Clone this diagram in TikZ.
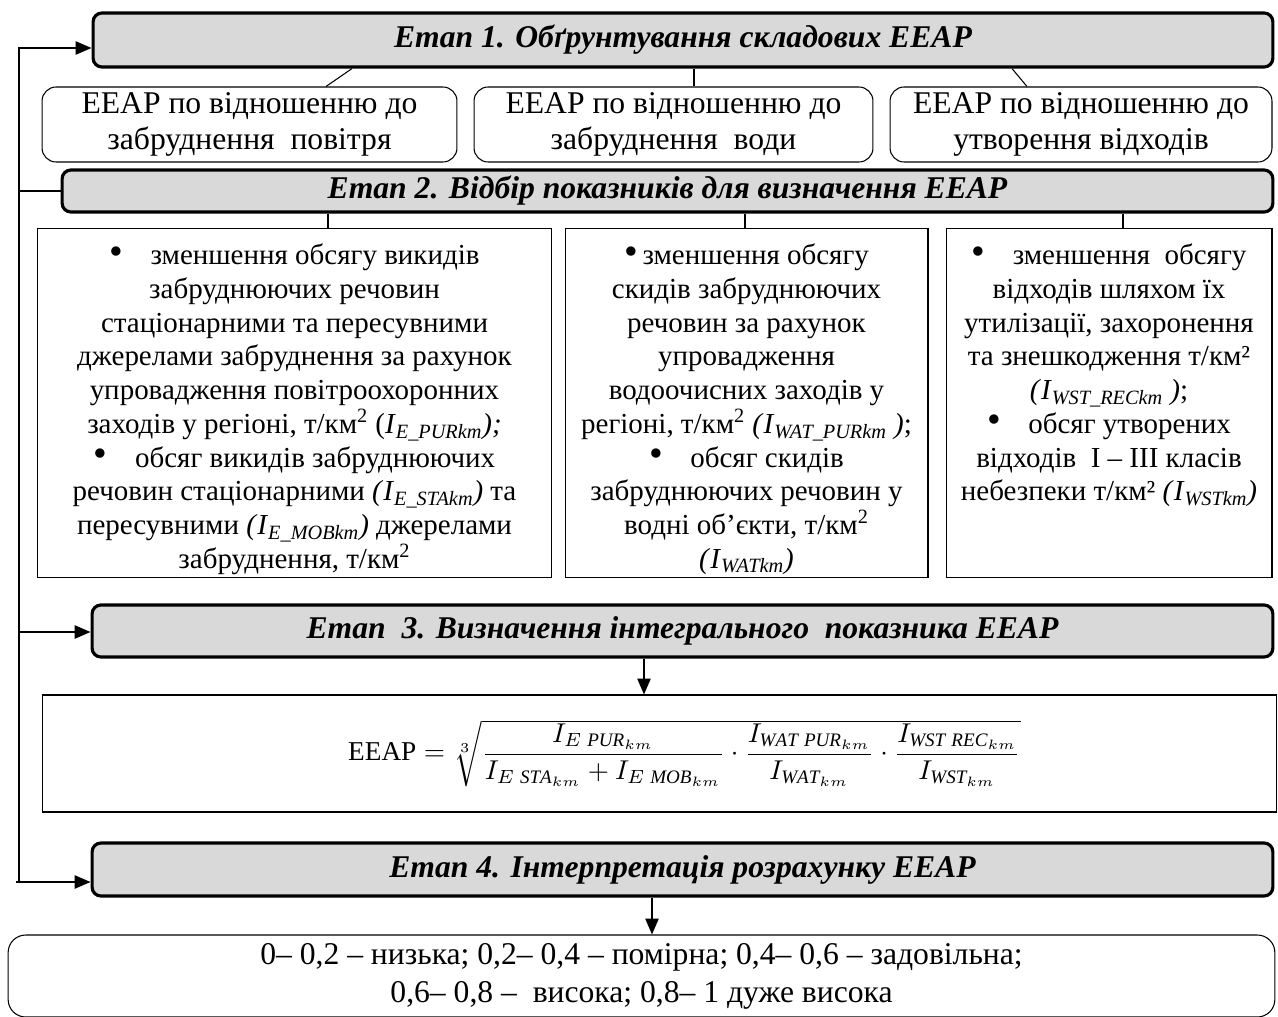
\documentclass[tikz,border=0pt]{standalone}
\usepackage{amsmath}
\usepackage{graphicx}
\usepackage{fontspec}
\setmainfont{Liberation Serif}
\usetikzlibrary{arrows.meta,positioning,calc}
\tikzset{every picture/.style={line width=0.75pt}}
\definecolor{stagegray}{HTML}{D9D9D9}
\tikzset{
  stage/.style={draw, line width=1.8pt, rounded corners=5pt, fill=stagegray,
    minimum width=23.6cm, font=\fontsize{18}{21}\selectfont\bfseries\itshape},
  kind/.style={draw, line width=0.6pt, rounded corners=8pt, align=center,
    minimum height=1.5cm, inner sep=1pt, font=\fontsize{18}{20.5}\selectfont},
  listbox/.style={draw, line width=0.6pt, inner sep=0pt, minimum height=7cm,
    font=\fontsize{16.5}{19.2}\selectfont},
  flow/.style={-{Triangle[length=9pt,width=7.5pt]}, line width=1pt},
  link/.style={line width=0.6pt},
}
\newcommand{\ind}[2]{\textit{I}\textsubscript{\textit{#1}}#2}
\newcommand{\blt}{\raisebox{0.05ex}{\scalebox{1.35}{\textbullet}}}

\begin{document}
\begin{tikzpicture}[x=0.02cm, y=-0.02cm]
    \useasboundingbox (0,0) rectangle (1278,1017);

    % Етап 1
    \node[stage, minimum height=1.08cm] (st1) at (683,40) {Етап 1. Обґрунтування складових ЕЕАР};

    % складові ЕЕАР
    \node[kind, minimum width=8.3cm] (a1) at (249.5,124.5) {ЕЕАР по відношенню до\\забруднення\ \ повітря};
    \node[kind, minimum width=7.98cm] (a2) at (673.5,124.5) {ЕЕАР по відношенню до\\забруднення\ \ води};
    \node[kind, minimum width=7.64cm] (a3) at (1081,124.5) {ЕЕАР по відношенню до\\утворення відходів};

    \draw[link] (st1.south -| 352,0) -- (a1.north -| 326,0);
    \draw[link] (st1.south -| 694,0) -- (a2.north -| 694,0);
    \draw[link] (st1.south -| 1012,0) -- (a3.north -| 1027,0);

    % Етап 2
    \node[stage, minimum width=24.22cm, minimum height=0.84cm] (st2) at (667.5,191) {Етап 2. Відбір показників для визначення ЕЕАР};

    % показники
    \node[listbox, minimum width=10.3cm] (b1) at (294.5,403) {\parbox[c][7cm][t]{10.2cm}{\centering\vspace*{0.32cm}
        \blt\hspace{0.55cm}зменшення обсягу викидів\\
        забруднюючих речовин\\
        стаціонарними та пересувними\\
        джерелами забруднення за рахунок\\
        упровадження повітроохоронних\\
        заходів у регіоні, т/км\textsuperscript{2} (\ind{E\_PURkm}{\textit{);}}\\
        \blt\hspace{0.55cm}обсяг викидів забруднюючих\\
        речовин стаціонарними \textit{(}\ind{E\_STAkm}{\textit{)}} та\\
        пересувними \textit{(}\ind{E\_MOBkm}{\textit{)}} джерелами\\
        забруднення, т/км\textsuperscript{2}}};
    \node[listbox, minimum width=7.26cm] (b2) at (746.5,403) {\parbox[c][7cm][t]{7.2cm}{\centering\vspace*{0.32cm}
        \blt\,зменшення обсягу\\
        скидів забруднюючих\\
        речовин за рахунок\\
        упровадження\\
        водоочисних заходів у\\
        регіоні, т/км\textsuperscript{2} \textit{(}\ind{WAT\_PURkm}{ \textit{)}};\\
        \blt\hspace{0.55cm}обсяг скидів\\
        забруднюючих речовин у\\
        водні об’єкти, т/км\textsuperscript{2}\\
        \textit{(}\ind{WATkm}{\textit{)}}}};
    \node[listbox, minimum width=6.52cm] (b3) at (1109,403) {\parbox[c][7cm][t]{6.5cm}{\centering\vspace*{0.32cm}
        \blt\hspace{0.55cm}зменшення\ \ обсягу\\
        відходів шляхом їх\\
        утилізації, захоронення\\
        та знешкодження т/км²\\
        \textit{(}\ind{WST\_RECkm}{ \textit{)}};\\
        \blt\hspace{0.55cm}обсяг утворених\\
        відходів\ \ I – III класів\\
        небезпеки т/км² \textit{(}\ind{WSTkm}{\textit{)}}}};

    \draw[link] (st2.south -| 328,0) -- (b1.north -| 328,0);
    \draw[link] (st2.south -| 745,0) -- (b2.north -| 745,0);
    \draw[link] (st2.south -| 1123,0) -- (b3.north -| 1123,0);

    % Етап 3
    \node[stage, minimum width=23.62cm, minimum height=1.04cm] (st3) at (682.5,631) {Етап\ \ 3. Визначення інтегрального\ \ показника ЕЕАР};

    % формула
    \node[draw, line width=0.6pt, minimum width=24.7cm, minimum height=2.34cm] (f) at (659.5,753.5)
        {\hspace{1cm}\scalebox{1.55}{$\mathrm{EEAP}=\sqrt[3]{\dfrac{I_{E\;\mathit{PUR}_{km}}}{I_{E\;\mathit{STA}_{km}}+I_{E\;\mathit{MOB}_{km}}}\cdot\dfrac{I_{\mathit{WAT}\;\mathit{PUR}_{km}}}{I_{\mathit{WAT}_{km}}}\cdot\dfrac{I_{\mathit{WST}\;\mathit{REC}_{km}}}{I_{\mathit{WST}_{km}}}}$}};

    \draw[flow] (st3.south -| 644,0) -- (f.north -| 644,0);

    % Етап 4
    \node[stage, minimum width=23.62cm, minimum height=1.06cm] (st4) at (682.5,869.5) {Етап 4. Інтерпретація розрахунку ЕЕАР};

    % шкала
    \node[kind, minimum width=25.34cm, minimum height=1.64cm, rounded corners=10pt, font=\fontsize{18}{21.5}\selectfont] (r) at (641.5,976)
        {0– 0,2 – низька; 0,2– 0,4 – помірна; 0,4– 0,6 – задовільна;\\0,6– 0,8 –\ \ висока; 0,8– 1 дуже висока};

    \draw[flow] (st4.south -| 652,0) -- (r.north -| 652,0);

    % зворотний зв'язок
    \coordinate (lt) at (19,48);
    \coordinate (lb) at (19,882);
    \draw[flow] (lb) -- (lt) -- (lt -| st1.west);
    \draw[line width=1pt] (lt |- st2.west) -- (st2.west);
    \draw[flow] (lt |- 0,632) -- (st3.west |- 0,632);
    \draw[flow] (16,882) -- (lb -| st4.west);
\end{tikzpicture}
\end{document}
